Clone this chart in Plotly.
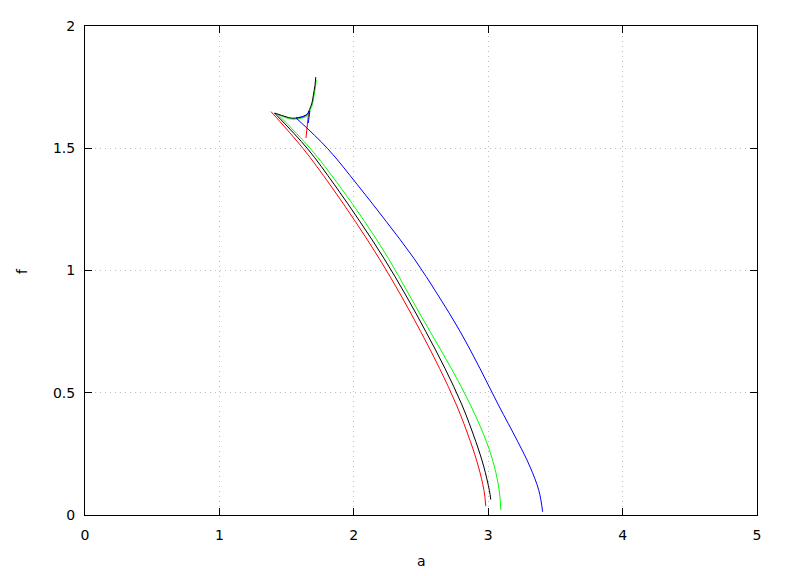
import plotly.graph_objects as go

# ---- data ----
red_f = [1.650, 1.500, 1.350, 1.200, 1.050, 0.900, 0.750, 0.600, 0.450, 0.300, 0.200, 0.100, 0.036]
red_a = [1.384, 1.621, 1.824, 2.012, 2.188, 2.349, 2.498, 2.638, 2.764, 2.868, 2.926, 2.969, 2.982]

red_spur_a = [1.665, 1.644]
red_spur_f = [1.650, 1.542]

black_upper_a = [1.717, 1.711, 1.699, 1.689, 1.670, 1.650, 1.600, 1.538, 1.488, 1.443, 1.410]
black_upper_f = [1.791, 1.757, 1.717, 1.686, 1.658, 1.637, 1.626, 1.623, 1.630, 1.638, 1.644]

black_f = [1.644, 1.500, 1.350, 1.200, 1.050, 0.900, 0.750, 0.600, 0.450, 0.300, 0.200, 0.100, 0.063]
black_a = [1.410, 1.653, 1.857, 2.046, 2.224, 2.386, 2.536, 2.678, 2.805, 2.908, 2.966, 3.009, 3.019]

green_upper_a = [1.720, 1.715, 1.703, 1.693, 1.674, 1.653, 1.602, 1.540, 1.490, 1.455, 1.432]
green_upper_f = [1.780, 1.752, 1.712, 1.681, 1.653, 1.633, 1.622, 1.619, 1.626, 1.634, 1.640]

green_f = [1.640, 1.500, 1.350, 1.200, 1.050, 0.900, 0.750, 0.600, 0.450, 0.300, 0.200, 0.100, 0.020]
green_a = [1.432, 1.675, 1.888, 2.081, 2.257, 2.412, 2.568, 2.725, 2.868, 2.987, 3.045, 3.082, 3.094]

blue_hook_a = [1.661, 1.673, 1.650, 1.612, 1.570]
blue_hook_f = [1.603, 1.652, 1.637, 1.628, 1.624]

blue_f = [1.624, 1.500, 1.350, 1.200, 1.050, 0.900, 0.750, 0.600, 0.450, 0.300, 0.200, 0.100, 0.013]
blue_a = [1.570, 1.803, 2.028, 2.242, 2.447, 2.626, 2.792, 2.938, 3.076, 3.220, 3.309, 3.377, 3.405]

x_ticks = [0, 1, 2, 3, 4, 5]
x_labels = ["0", "1", "2", "3", "4", "5"]
y_ticks = [0, 0.5, 1, 1.5, 2]
y_labels = ["0", "0.5", "1", "1.5", "2"]
x_title = "a"
y_title = "f"

fig = go.Figure()


def add(a, f, color, shape="spline"):
    line = dict(color=color, width=1, shape=shape)
    if shape == "spline":
        line["smoothing"] = 1.0
    fig.add_trace(go.Scatter(x=a, y=f, mode="lines", line=line,
                             showlegend=False, hoverinfo="skip"))


add(red_a, red_f, "#ff0000")
add(red_spur_a, red_spur_f, "#ff0000", "linear")
add(green_upper_a, green_upper_f, "#00ff00")
add(green_a, green_f, "#00ff00")
add(black_upper_a, black_upper_f, "#000000")
add(black_a, black_f, "#000000")
add(blue_hook_a, blue_hook_f, "#0000ff", "linear")
add(blue_a, blue_f, "#0000ff")

font = dict(family="DejaVu Sans", size=14, color="#000000")

axis_common = dict(
    showline=True, linecolor="#000000", linewidth=1, mirror="ticks",
    ticks="inside", ticklen=7, tickcolor="#000000", tickwidth=1,
    showgrid=True, gridcolor="#bdbdbd", griddash="1px,4px", gridwidth=1,
    zeroline=False, tickfont=font,
)

# the page body has an 8px margin, so the figure is sized and offset for it
fig.update_layout(
    width=772, height=560,
    margin=dict(l=77, r=23, t=10, b=53),
    paper_bgcolor="white", plot_bgcolor="white",
    font=font,
    xaxis=dict(range=[0, 5], tickvals=x_ticks, ticktext=x_labels,
               ticklabelstandoff=7, **axis_common),
    yaxis=dict(range=[0, 2], tickvals=y_ticks, ticktext=y_labels,
               ticklabelstandoff=6, **axis_common),
    annotations=[
        dict(text=x_title, xref="paper", yref="paper", x=0.5, y=-0.0946,
             xanchor="center", yanchor="middle", showarrow=False, font=font),
        dict(text=y_title, xref="paper", yref="paper", x=-0.0945, y=0.5,
             xanchor="center", yanchor="middle", showarrow=False, font=font,
             textangle=-90),
    ],
)

fig.write_html("out.html")
